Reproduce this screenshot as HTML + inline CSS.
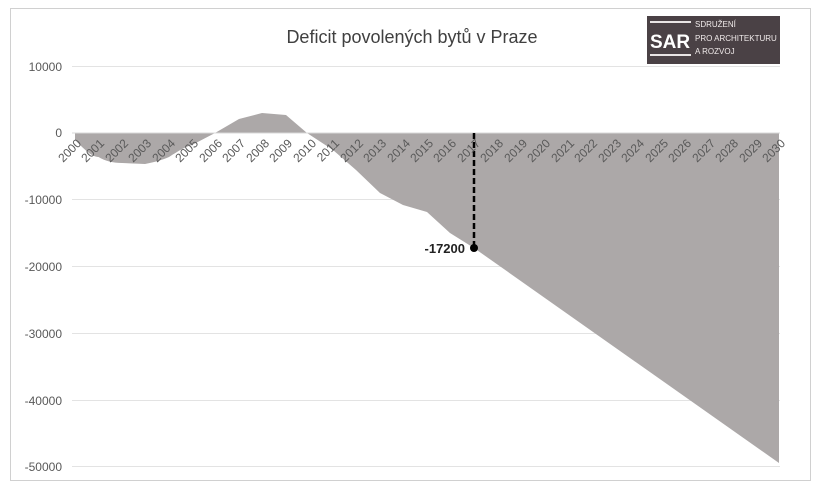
<!DOCTYPE html>
<html><head><meta charset="utf-8"><style>
body{margin:0;background:#fff;}
svg{display:block;font-family:"Liberation Sans",sans-serif;}
</style></head><body>
<svg width="819" height="488" viewBox="0 0 819 488">
<rect x="0" y="0" width="819" height="488" fill="#fff"/>
<rect x="10.5" y="8.5" width="800" height="472" fill="none" stroke="#d0d0d0"/>
<g stroke="#e3e3e3" stroke-width="1">
<line x1="72" y1="66.5" x2="780" y2="66.5"/>
<line x1="72" y1="199.5" x2="780" y2="199.5"/>
<line x1="72" y1="266.5" x2="780" y2="266.5"/>
<line x1="72" y1="333.5" x2="780" y2="333.5"/>
<line x1="72" y1="400.5" x2="780" y2="400.5"/>
<line x1="72" y1="466.5" x2="780" y2="466.5"/>
</g>
<path fill="#aca8a8" d="M75,133 L75,140 C85,150 92,157 98.5,157 C105,161 113,163 122,163 L145,164 C155,162 162,160 169,157 C180,150 185,147 192,145 L215,133 L239,119 L262,113 L286,115 L307,133 L333,150 L356,170 L380,193 L403,205 L427,212 L450,233 L474,248 L779,463 L779,133 Z"/>
<line x1="72" y1="133" x2="780" y2="133" stroke="#d8d8d8"/>
<line x1="474" y1="133" x2="474" y2="248" stroke="#000" stroke-width="2.5" stroke-dasharray="6,3"/>
<circle cx="474" cy="248" r="4" fill="#000"/>
<text x="465" y="253" text-anchor="end" font-size="13" font-weight="bold" fill="#222">-17200</text>
<g font-size="12" fill="#595959" text-anchor="end">
<text x="62" y="71">10000</text>
<text x="62" y="137">0</text>
<text x="62" y="204">-10000</text>
<text x="62" y="271">-20000</text>
<text x="62" y="338">-30000</text>
<text x="62" y="405">-40000</text>
<text x="62" y="471">-50000</text>
</g>
<g font-size="12" fill="#595959">
<text transform="translate(82,144) rotate(-45)" text-anchor="end">2000</text>
<text transform="translate(105,144) rotate(-45)" text-anchor="end">2001</text>
<text transform="translate(129,144) rotate(-45)" text-anchor="end">2002</text>
<text transform="translate(152,144) rotate(-45)" text-anchor="end">2003</text>
<text transform="translate(176,144) rotate(-45)" text-anchor="end">2004</text>
<text transform="translate(199,144) rotate(-45)" text-anchor="end">2005</text>
<text transform="translate(223,144) rotate(-45)" text-anchor="end">2006</text>
<text transform="translate(246,144) rotate(-45)" text-anchor="end">2007</text>
<text transform="translate(270,144) rotate(-45)" text-anchor="end">2008</text>
<text transform="translate(293,144) rotate(-45)" text-anchor="end">2009</text>
<text transform="translate(317,144) rotate(-45)" text-anchor="end">2010</text>
<text transform="translate(340,144) rotate(-45)" text-anchor="end">2011</text>
<text transform="translate(364,144) rotate(-45)" text-anchor="end">2012</text>
<text transform="translate(387,144) rotate(-45)" text-anchor="end">2013</text>
<text transform="translate(411,144) rotate(-45)" text-anchor="end">2014</text>
<text transform="translate(434,144) rotate(-45)" text-anchor="end">2015</text>
<text transform="translate(457,144) rotate(-45)" text-anchor="end">2016</text>
<text transform="translate(481,144) rotate(-45)" text-anchor="end">2017</text>
<text transform="translate(504,144) rotate(-45)" text-anchor="end">2018</text>
<text transform="translate(528,144) rotate(-45)" text-anchor="end">2019</text>
<text transform="translate(551,144) rotate(-45)" text-anchor="end">2020</text>
<text transform="translate(575,144) rotate(-45)" text-anchor="end">2021</text>
<text transform="translate(598,144) rotate(-45)" text-anchor="end">2022</text>
<text transform="translate(622,144) rotate(-45)" text-anchor="end">2023</text>
<text transform="translate(645,144) rotate(-45)" text-anchor="end">2024</text>
<text transform="translate(669,144) rotate(-45)" text-anchor="end">2025</text>
<text transform="translate(692,144) rotate(-45)" text-anchor="end">2026</text>
<text transform="translate(716,144) rotate(-45)" text-anchor="end">2027</text>
<text transform="translate(739,144) rotate(-45)" text-anchor="end">2028</text>
<text transform="translate(763,144) rotate(-45)" text-anchor="end">2029</text>
<text transform="translate(786,144) rotate(-45)" text-anchor="end">2030</text>
</g>
<text x="412" y="43" text-anchor="middle" font-size="18" fill="#404040">Deficit povolených bytů v Praze</text>
<rect x="647" y="16" width="133" height="48" fill="#4a4145"/>
<g stroke="#e8e4e4" stroke-width="2">
<line x1="650" y1="22" x2="691" y2="22"/>
<line x1="650" y1="55" x2="691" y2="55"/>
</g>
<text x="650" y="48" font-size="19" font-weight="bold" fill="#fff">SAR</text>
<g font-size="8" fill="#f0eaea">
<text x="695" y="27">SDRUŽENÍ</text>
<text x="695" y="41">PRO ARCHITEKTURU</text>
<text x="695" y="54">A ROZVOJ</text>
</g>
</svg>
</body></html>
